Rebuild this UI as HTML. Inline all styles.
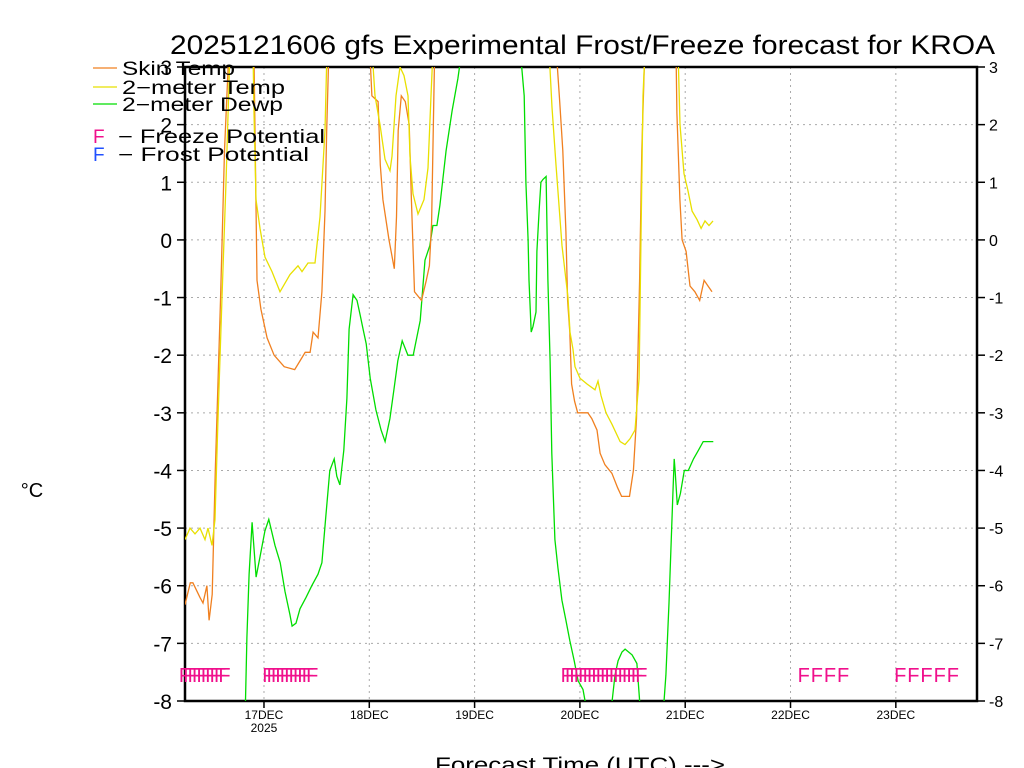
<!DOCTYPE html>
<html><head><meta charset="utf-8"><style>
html,body{margin:0;padding:0;background:#fff;}
svg{display:block;font-family:"Liberation Sans",sans-serif;}
</style></head><body>
<svg id="chart" width="1024" height="768" viewBox="0 0 1024 768" xmlns="http://www.w3.org/2000/svg">
<defs><clipPath id="plotclip"><rect x="185" y="67" width="792" height="634"/></clipPath></defs>
<text x="170" y="54" font-size="27" fill="#000" textLength="825" lengthAdjust="spacingAndGlyphs">2025121606 gfs Experimental Frost/Freeze forecast for KROA</text>
<g id="grid"></g>
<g id="axes"></g>
<g id="series" clip-path="url(#plotclip)"></g>
<g id="marks"></g>
<g font-size="19">
 <line x1="93" y1="68" x2="117" y2="68" stroke="#f08020" stroke-width="1.3"/>
 <text x="122" y="75" fill="#000" textLength="113" lengthAdjust="spacingAndGlyphs">Skin Temp</text>
 <line x1="93" y1="87" x2="117" y2="87" stroke="#e8e000" stroke-width="1.3"/>
 <text x="122" y="94" fill="#000" textLength="163" lengthAdjust="spacingAndGlyphs">2−meter Temp</text>
 <line x1="93" y1="104" x2="117" y2="104" stroke="#00dd00" stroke-width="1.3"/>
 <text x="122" y="111" fill="#000" textLength="161" lengthAdjust="spacingAndGlyphs">2−meter Dewp</text>
 <text x="93" y="143" fill="#f0108c">F</text>
 <text x="118" y="143" fill="#000" textLength="207" lengthAdjust="spacingAndGlyphs">−  Freeze Potential</text>
 <text x="93" y="161" fill="#2050ff">F</text>
 <text x="118" y="161" fill="#000" textLength="191" lengthAdjust="spacingAndGlyphs">−  Frost Potential</text>
</g>
<text x="32" y="497" text-anchor="middle" font-size="20">°C</text>
<text x="435" y="772" font-size="21" textLength="290" lengthAdjust="spacingAndGlyphs">Forecast Time (UTC) ---&gt;</text>
</svg>
<script>
const yTicks=[-8,-7,-6,-5,-4,-3,-2,-1,0,1,2,3];
const dayLabels=["17DEC","18DEC","19DEC","20DEC","21DEC","22DEC","23DEC"];
const dayHours=[18,42,66,90,114,138,162];
const skinH=[0,1.2,1.8,3.4,4.1,5,5.5,6.2,6.9,8.1,9,10,15.7,16.4,17.3,18.7,20.3,22.6,25,26.2,27.4,28.5,29.2,30.3,31.2,31.9,32.3,32.8,42.1,42.6,44,44.5,45.1,46.5,47.7,48.2,48.6,49.3,50.2,51.1,51.6,52.3,53.9,55,55.7,56.2,56.9,84.6,85.4,86.1,86.8,87.2,87.7,88.1,88.8,89.5,91.8,92.7,93.9,94.6,95.7,97.3,98.6,99.5,101.3,102.2,102.9,103.6,104.1,104.8,111.9,112.1,112.8,113.3,114.2,115.1,116.2,117.3,118.3,119.2,120.1];
const skinV=[-6.33,-5.95,-5.95,-6.2,-6.3,-6.0,-6.6,-6.15,-4.0,-1.05,1.55,3.3,3.3,-0.7,-1.2,-1.7,-2.0,-2.2,-2.25,-2.1,-1.95,-1.95,-1.6,-1.7,-0.9,0.5,1.9,3.3,3.3,2.5,2.4,1.3,0.7,0.0,-0.5,0.4,1.9,2.5,2.4,2.0,0.7,-0.9,-1.05,-0.7,-0.45,0.3,3.3,3.3,2.4,1.55,0.15,-1.05,-1.6,-2.5,-2.8,-3.0,-3.0,-3.1,-3.3,-3.7,-3.9,-4.05,-4.3,-4.45,-4.45,-4.0,-3.1,-0.7,1.55,3.3,3.3,2.2,0.7,0.0,-0.2,-0.8,-0.9,-1.05,-0.7,-0.8,-0.9];
const t2H=[0,1.14,2.28,3.42,4.56,5.24,6.15,6.84,7.52,8.43,9.34,10.26,15.5,15.73,16.18,17.09,18.23,19.83,21.65,23.93,25.75,26.67,28.03,29.63,30.77,31.91,32.36,42.62,43.3,44.44,45.58,46.72,47.18,48.09,49.0,49.91,50.83,51.28,51.97,53.1,54.47,55.38,56.07,56.52,82.96,83.65,84.56,85.93,87.29,87.75,88.43,88.89,90.03,91.62,93.45,94.13,94.81,95.95,97.32,99.15,100.28,101.42,102.56,103.48,103.93,104.39,104.84,112.36,112.82,113.73,114.64,115.56,116.7,117.61,118.52,119.43,120.34];
const t2V=[-5.2,-5.0,-5.1,-5.0,-5.2,-5.0,-5.3,-4.85,-3.1,-1.0,1.0,3.3,3.3,2.2,0.7,0.2,-0.3,-0.55,-0.9,-0.6,-0.45,-0.55,-0.4,-0.4,0.4,1.9,3.3,3.3,2.5,2.0,1.4,1.2,1.45,2.5,3.0,2.85,2.5,1.45,0.8,0.45,0.7,1.25,2.5,3.3,3.3,2.3,1.3,-0.1,-1.0,-1.6,-1.9,-2.2,-2.4,-2.5,-2.6,-2.45,-2.7,-3.0,-3.2,-3.5,-3.55,-3.45,-3.3,-2.4,0.05,2.5,3.3,3.3,2.0,1.15,0.85,0.5,0.35,0.2,0.33,0.25,0.33];
const dewH=[13.7,14.1,14.6,15.3,16.2,17.1,18.2,19.1,20.5,21.7,22.8,23.9,24.4,25.3,26.2,27.6,28.9,30.3,31.2,32.1,33.0,34.0,34.6,35.3,36.2,36.9,37.4,38.3,39.2,39.9,40.6,41.3,42.2,43.5,44.7,45.6,46.7,47.6,48.5,49.5,50.8,52.0,53.6,54.7,55.8,56.5,57.4,58.1,59.5,60.9,62.2,63.1,76.4,77.3,77.7,78.2,78.4,78.9,79.3,80.0,80.2,80.7,81.1,81.6,82.3,82.7,83.2,83.6,84.3,85.0,85.9,86.8,87.7,88.7,89.6,90.7,91.9,96.9,98.0,98.7,99.6,100.3,101.9,103.0,103.9,108.9,109.6,110.3,111.2,111.5,111.7,112.2,112.9,113.8,114.7,115.9,117.0,118.1,119.2,120.4];
const dewV=[-8.3,-6.9,-5.8,-4.9,-5.85,-5.5,-5.05,-4.85,-5.3,-5.6,-6.1,-6.5,-6.7,-6.65,-6.4,-6.2,-6.0,-5.8,-5.6,-4.8,-4.0,-3.8,-4.1,-4.25,-3.65,-2.75,-1.55,-0.95,-1.05,-1.3,-1.55,-1.8,-2.4,-2.95,-3.3,-3.5,-3.1,-2.6,-2.1,-1.75,-2.0,-2.0,-1.4,-0.35,-0.1,0.25,0.25,0.6,1.55,2.25,2.8,3.3,3.3,2.5,1.0,0.0,-0.7,-1.6,-1.5,-1.25,-0.2,0.5,1.0,1.05,1.1,-0.7,-2.1,-3.7,-5.2,-5.7,-6.25,-6.6,-6.95,-7.3,-7.65,-7.8,-8.3,-8.3,-7.55,-7.3,-7.15,-7.1,-7.2,-7.35,-8.3,-8.3,-7.55,-6.3,-4.4,-3.8,-4.0,-4.6,-4.4,-4.0,-4.0,-3.8,-3.65,-3.5,-3.5,-3.5];
const freezeH=[0,1,2,3,4,5,6,7,8,9,19,20,21,22,23,24,25,26,27,28,29,87,88,89,90,91,92,93,94,95,96,97,98,99,100,101,102,103,104,141,144,147,150,163,166,169,172,175];

const X0=185,X1=977,Y0=701,Y1=67,H0=0,H1=180.5;
const xs=h=>X0+(h-H0)*(X1-X0)/(H1-H0);
const ys=v=>Y0-(v+8)*(Y0-Y1)/11;
const NS="http://www.w3.org/2000/svg";
function mk(tag,attrs,parent,text){const e=document.createElementNS(NS,tag);for(const k in attrs)e.setAttribute(k,attrs[k]);if(text!==undefined)e.textContent=text;parent.appendChild(e);return e;}
const grid=document.getElementById('grid'),axes=document.getElementById('axes'),series=document.getElementById('series'),marks=document.getElementById('marks');
yTicks.forEach(v=>{
  const y=ys(v);
  if(v>-8&&v<3){const g=mk('line',{x1:X0,x2:X1,y1:y,y2:y,stroke:'#aaa','stroke-width':1,'stroke-dasharray':'2,4'},grid);
  
  }
  const t1=mk('line',{x1:X0-8,x2:X0,y1:y,y2:y,stroke:'#000','stroke-width':1.5},axes);
  
  
  const t2=mk('line',{x1:X1,x2:X1+8,y1:y,y2:y,stroke:'#000','stroke-width':1.5},axes);
  
  
  const l1=mk('text',{x:X0-13,y:y+8,'text-anchor':'end','font-size':21},axes,String(v));
  
  
  const l2=mk('text',{x:X1+12,y:y+6,'text-anchor':'start','font-size':16},axes,String(v));
  
  
});
dayHours.forEach((h,i)=>{
  const x=xs(h);
  const g=mk('line',{x1:x,x2:x,y1:Y1,y2:Y0,stroke:'#aaa','stroke-width':1,'stroke-dasharray':'2,4'},grid);
  
  
  const t=mk('line',{x1:x,x2:x,y1:Y0,y2:Y0+7,stroke:'#000','stroke-width':1.5},axes);
  
  
  const l=mk('text',{x:x,y:Y0+18,'text-anchor':'middle','font-size':12},axes,dayLabels[i]);
  
  
  if(i===0){const yr=mk('text',{x:x,y:Y0+31,'text-anchor':'middle','font-size':12},axes,'2025');
  
  }
});
const frame=mk('rect',{x:X0,y:Y1,width:X1-X0,height:Y0-Y1,fill:'none',stroke:'#000','stroke-width':2.5},axes);


function line(H,V,color,name){
  const d=H.map((h,i)=>(i?'L':'M')+xs(h).toFixed(1)+','+ys(V[i]).toFixed(1)).join(' ');
  const p=mk('path',{d:d,fill:'none',stroke:color,'stroke-width':1.3},series);
  
  
}
line(dewH,dewV,'#00dd00','dewpoint-line');
line(skinH,skinV,'#f08020','skin-temp-line');
line(t2H,t2V,'#e8e000','2m-temp-line');
freezeH.forEach(h=>{
  const f=mk('text',{x:xs(h),y:682,'text-anchor':'middle','font-size':20,fill:'#f0108c'},marks,'F');
  
  
});
</script>
</body></html>
